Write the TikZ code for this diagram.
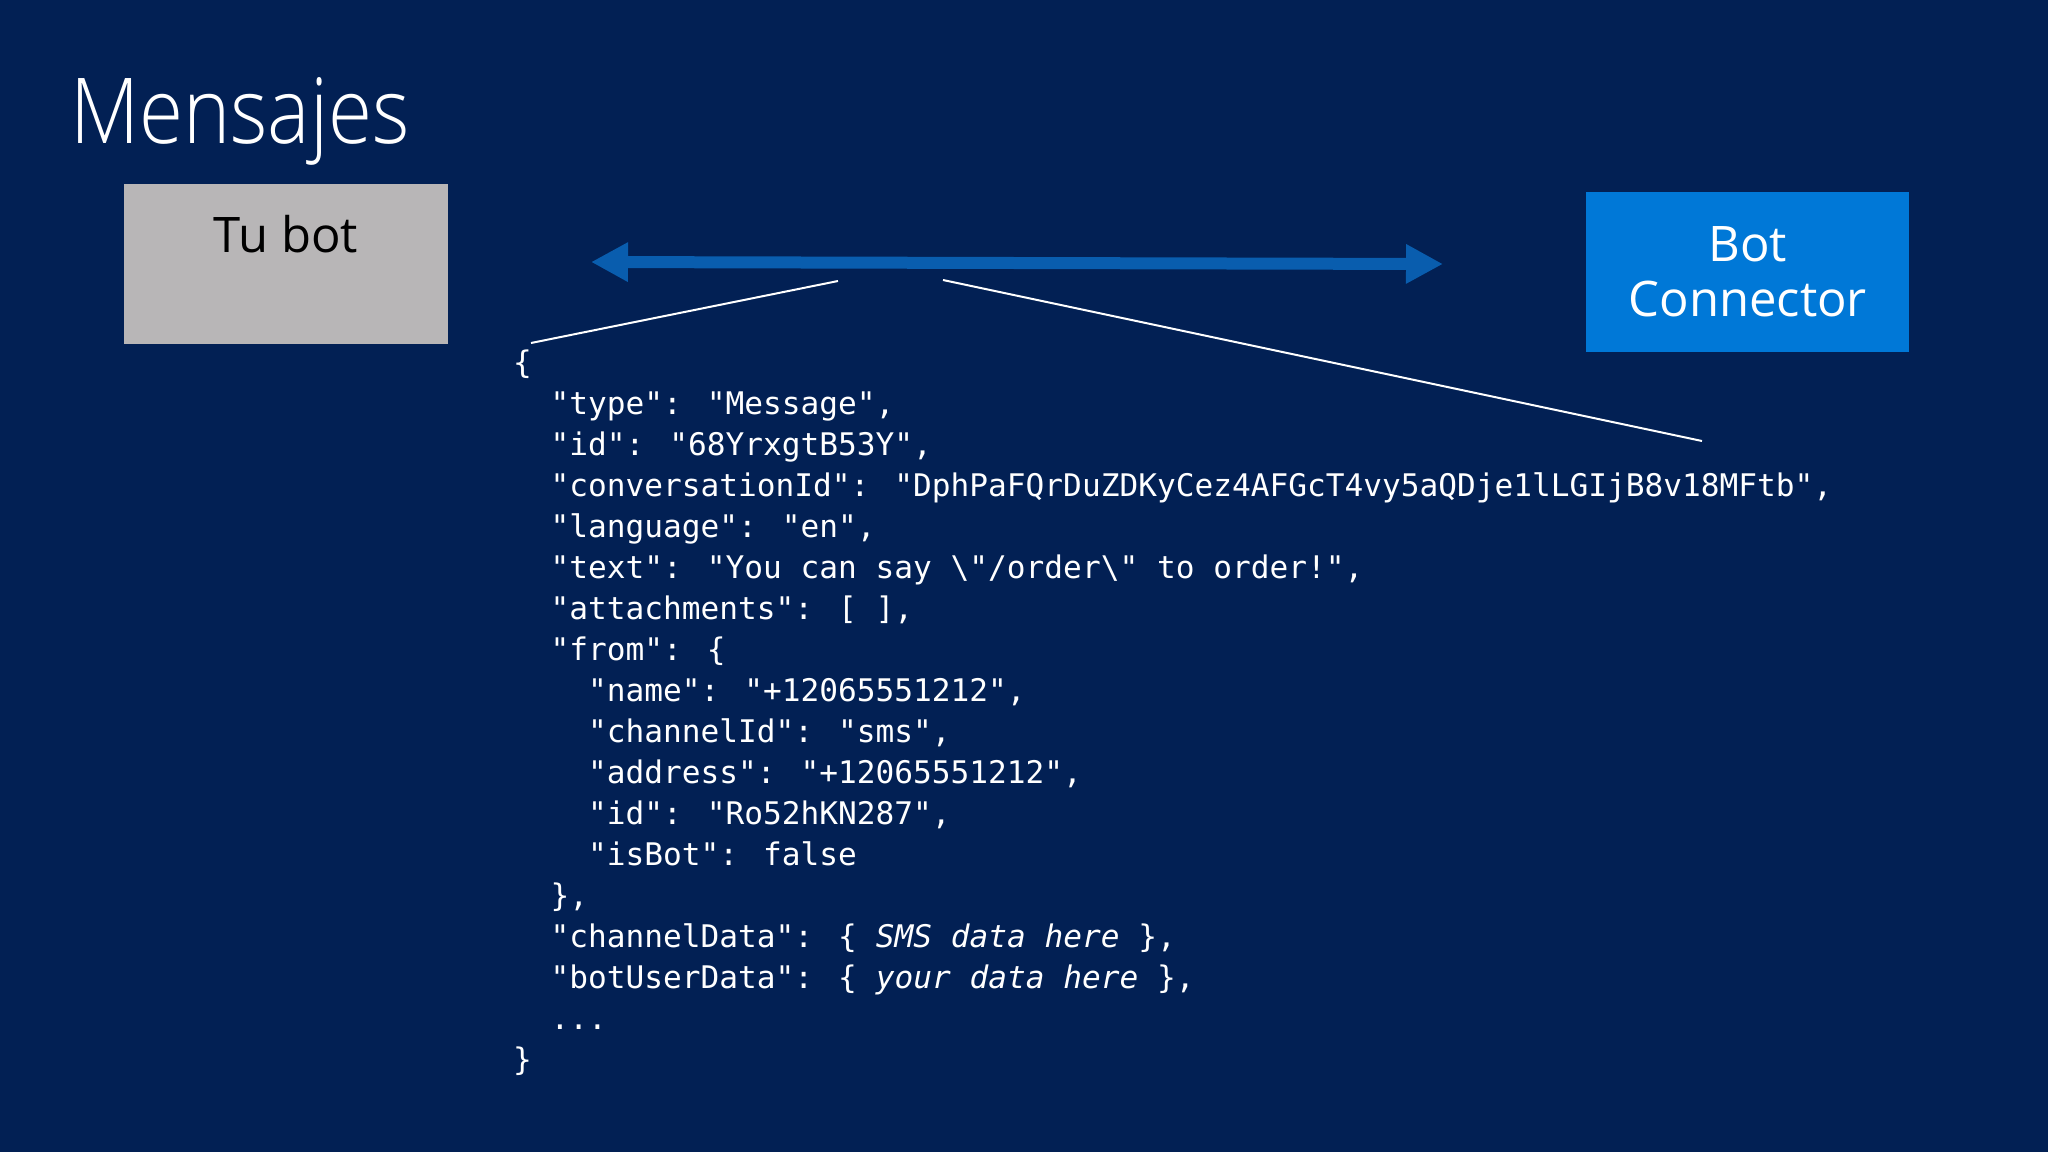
\documentclass[tikz,border=0pt]{standalone}
\usepackage{fontspec}
\usepackage{graphicx}
\setmainfont{Open Sans}
\newfontfamily\codefont{DejaVu Sans Mono}[ItalicFont={DejaVu Sans Mono Oblique}]
\IfFontExistsTF{Open Sans Light}{\newfontfamily\titlefont{Open Sans Light}}{%
  \IfFontExistsTF{Lato Light}{\newfontfamily\titlefont{Lato Light}}{\newfontfamily\titlefont{Open Sans}}}
\usetikzlibrary{arrows.meta}
\definecolor{bg}{HTML}{022054}
\definecolor{botgrey}{HTML}{B8B6B7}
\definecolor{connblue}{HTML}{0078D7}
\definecolor{arrowblue}{HTML}{095DAE}
\tikzset{
  codeline/.style={font=\codefont\fontsize{31.15}{41}\selectfont, text=white, inner sep=0pt, anchor=base west},
  boxlabel/.style={font=\fontsize{49}{55}\selectfont, inner sep=0pt, anchor=base},
  callout/.style={draw=white, line width=2pt},
  bigarrow/.style={draw=arrowblue, line width=12pt, {Triangle[length=37pt,width=37pt]}-{Triangle[length=37pt,width=37pt]}}
}
\begin{document}
\begin{tikzpicture}[x=1pt,y=-1pt]
\fill[bg] (0,0) rectangle (2048,1152);
\useasboundingbox (0,0) rectangle (2048,1152);
% title
\node[font=\titlefont\fontsize{91}{100}\selectfont, text=white, inner sep=0pt, anchor=base west] (title) at (70,143) {\scalebox{0.88}[1]{Mensajes}};
% boxes
\node[fill=botgrey, minimum width=324pt, minimum height=160pt, inner sep=0pt, anchor=north west] (bot) at (124,184) {};
\node[boxlabel, text=black] (botlbl) at (286,252) {Tu bot};
\node[fill=connblue, minimum width=323pt, minimum height=160pt, inner sep=0pt, anchor=north west, text=white, align=center, font=\fontsize{49}{55}\selectfont] (conn) at (1586,192) {Bot\\Connector};
% arrow
\coordinate (al) at (591,262);
\coordinate (ar) at (1443,264);
\draw[bigarrow] (al) -- (ar);
% callout lines
\coordinate (c1a) at (838,281);
\coordinate (c1b) at (531,343);
\coordinate (c2a) at (943,280);
\coordinate (c2b) at (1702,441);
\draw[callout] (c1a) -- (c1b);
\draw[callout] (c2a) -- (c2b);
% code
\def\xa{513}
\def\xb{550.5}
\def\xc{588}
\node[codeline] (l1) at (\xa,373) {\{};
\node[codeline] (l2) at (\xb,414) {"type": "Message",};
\node[codeline] (l3) at (\xb,455) {"id": "68YrxgtB53Y",};
\node[codeline] (l4) at (\xb,496) {"conversationId": "DphPaFQrDuZDKyCez4AFGcT4vy5aQDje1lLGIjB8v18MFtb",};
\node[codeline] (l5) at (\xb,537) {"language": "en",};
\node[codeline] (l6) at (\xb,578) {"text": "You can say \textbackslash"/order\textbackslash" to order!",};
\node[codeline] (l7) at (\xb,619) {"attachments": [ ],};
\node[codeline] (l8) at (\xb,660) {"from": \{};
\node[codeline] (l9) at (\xc,701) {"name": "+12065551212",};
\node[codeline] (l10) at (\xc,742) {"channelId": "sms",};
\node[codeline] (l11) at (\xc,783) {"address": "+12065551212",};
\node[codeline] (l12) at (\xc,824) {"id": "Ro52hKN287",};
\node[codeline] (l13) at (\xc,865) {"isBot": false};
\node[codeline] (l14) at (\xb,906) {\},};
\node[codeline] (l15) at (\xb,947) {"channelData": \{ \textit{SMS data here} \},};
\node[codeline] (l16) at (\xb,988) {"botUserData": \{ \textit{your data here} \},};
\node[codeline] (l17) at (\xb,1029) {...};
\node[codeline] (l18) at (\xa,1070) {\}};
\end{tikzpicture}
\end{document}
